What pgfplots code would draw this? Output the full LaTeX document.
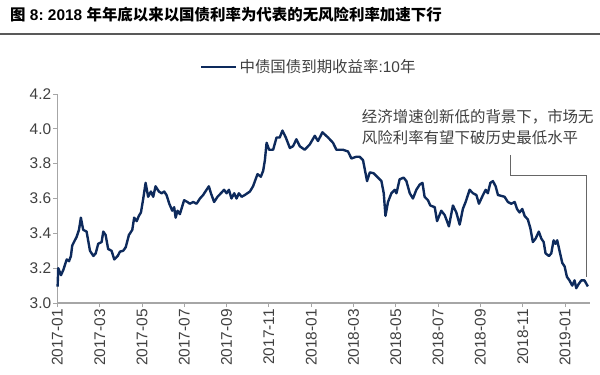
\documentclass[border=0pt]{standalone}
\usepackage{pgfplots}
\pgfplotsset{compat=1.18}
\usepackage{fontspec}
\setmainfont{Liberation Sans}
\newfontfamily\cjk{Noto Sans CJK SC}
\definecolor{navy}{HTML}{0D2A5C}
\definecolor{axgray}{HTML}{A6A6A6}
\definecolor{txtgray}{HTML}{404040}
\pgfplotstableread{
m v
0.01 3.094
0.04 3.20
0.17 3.16
0.28 3.19
0.44 3.25
0.55 3.24
0.64 3.27
0.70 3.33
0.91 3.38
1.02 3.42
1.11 3.49
1.22 3.42
1.38 3.41
1.54 3.30
1.70 3.27
1.81 3.285
1.93 3.34
2.09 3.35
2.17 3.41
2.28 3.39
2.40 3.31
2.56 3.30
2.69 3.25
2.85 3.27
2.96 3.295
3.11 3.30
3.23 3.32
3.38 3.39
3.54 3.42
3.63 3.49
3.75 3.47
3.85 3.50
3.95 3.52
4.06 3.60
4.17 3.69
4.29 3.61
4.42 3.64
4.53 3.61
4.64 3.67
4.80 3.64
4.93 3.63
5.05 3.64
5.16 3.62
5.29 3.57
5.43 3.53
5.52 3.55
5.59 3.49
5.68 3.53
5.79 3.51
5.99 3.59
6.15 3.58
6.26 3.57
6.42 3.58
6.58 3.57
6.74 3.60
6.89 3.62
7.05 3.65
7.16 3.67
7.26 3.63
7.41 3.58
7.57 3.61
7.73 3.63
7.88 3.65
8.00 3.63
8.11 3.65
8.23 3.60
8.36 3.63
8.47 3.60
8.58 3.63
8.71 3.61
8.86 3.62
9.10 3.64
9.25 3.67
9.37 3.71
9.46 3.74
9.62 3.725
9.73 3.76
9.81 3.82
9.89 3.92
10.01 3.88
10.20 3.88
10.36 3.95
10.51 3.95
10.64 3.99
10.80 3.95
10.99 3.89
11.14 3.90
11.30 3.94
11.46 3.90
11.69 3.88
11.93 3.91
12.17 3.96
12.32 3.93
12.53 3.98
12.80 3.95
13.03 3.92
13.19 3.88
13.50 3.88
13.74 3.87
13.90 3.83
14.14 3.84
14.29 3.84
14.45 3.82
14.64 3.70
14.77 3.75
14.95 3.745
15.16 3.72
15.32 3.70
15.43 3.63
15.51 3.50
15.63 3.58
15.79 3.63
15.95 3.65
16.03 3.63
16.18 3.71
16.37 3.72
16.50 3.70
16.66 3.63
16.81 3.60
16.97 3.65
17.13 3.68
17.26 3.69
17.36 3.61
17.52 3.59
17.63 3.56
17.84 3.55
17.95 3.47
18.15 3.53
18.31 3.505
18.42 3.47
18.51 3.44
18.70 3.56
18.86 3.52
19.02 3.45
19.17 3.54
19.30 3.58
19.49 3.65
19.65 3.63
19.81 3.62
19.93 3.57
20.12 3.62
20.25 3.65
20.35 3.63
20.47 3.69
20.59 3.70
20.72 3.67
20.83 3.62
20.99 3.615
21.14 3.61
21.30 3.58
21.46 3.57
21.62 3.58
21.73 3.54
21.85 3.52
21.98 3.54
22.09 3.50
22.24 3.48
22.36 3.43
22.48 3.35
22.61 3.37
22.76 3.41
22.88 3.37
22.99 3.35
23.08 3.285
23.24 3.27
23.35 3.285
23.46 3.36
23.55 3.34
23.63 3.36
23.74 3.30
23.87 3.23
23.98 3.21
24.09 3.15
24.21 3.13
24.34 3.10
24.45 3.13
24.53 3.085
24.65 3.11
24.77 3.13
24.92 3.13
25.08 3.095
}\yields
\begin{document}
\begin{tikzpicture}
\useasboundingbox (0bp,0bp) rectangle (600bp,-375bp);
\node[anchor=west, inner sep=0, font=\fontsize{15.5}{18}\selectfont\bfseries] at (10bp,-15bp) {{\cjk 图}\ 8:\ 2018 {\cjk 年年底以来以国债利率为代表的无风险利率加速下行}};
\draw[color=black!65, line width=1.5bp] (0bp,-34bp) -- (600bp,-34bp);
\begin{axis}[
  at={(57.4bp,-303bp)}, anchor=south west,
  scale only axis, width=533bp, height=209bp,
  xmin=0, xmax=25.2, ymin=3.0, ymax=4.2,
  clip=false,
  axis x line*=bottom, axis y line*=left,
  axis line style={axgray, line width=1.2bp, -},
  tick style={axgray, line width=1bp},
  tick align=outside, major tick length=4bp,
  xtick={0,2,...,24},
  xticklabels={2017-01,2017-03,2017-05,2017-07,2017-09,2017-11,2018-01,2018-03,2018-05,2018-07,2018-09,2018-11,2019-01},
  xticklabel style={rotate=90, anchor=east, inner sep=2bp},
  ytick={3.0,3.2,...,4.2},
  yticklabel style={/pgf/number format/fixed, /pgf/number format/fixed zerofill, /pgf/number format/precision=1, inner sep=2bp},
  /pgf/number format/assume math mode=true,
  ticklabel style={font=\fontsize{15.5}{18}\selectfont, text=txtgray},
  legend style={at={(axis description cs:0.2675,1.129)}, anchor=west, draw=none, fill=none, inner sep=0pt,
    font=\fontsize{15.5}{18}\selectfont, text=txtgray},
  legend image code/.code={\draw[#1] (0bp,0bp) -- (35bp,0bp);},
]
\addplot[navy, line width=2.4bp, line join=round] table[x=m, y=v] {\yields};
\addlegendentry{{\cjk 中债国债到期收益率}:10{\cjk 年}}
\draw[black!60, line width=0.9bp] (axis cs:21.41,3.85) -- (axis cs:21.41,3.735) -- (axis cs:25.0,3.735) -- (axis cs:25.0,3.15);
\node[anchor=north west, align=left, inner sep=0, text=txtgray, font=\cjk\fontsize{15.5}{21}\selectfont] at (axis cs:14.39,4.11) {经济增速创新低的背景下，市场无\\风险利率有望下破历史最低水平};
\end{axis}
\end{tikzpicture}
\end{document}
